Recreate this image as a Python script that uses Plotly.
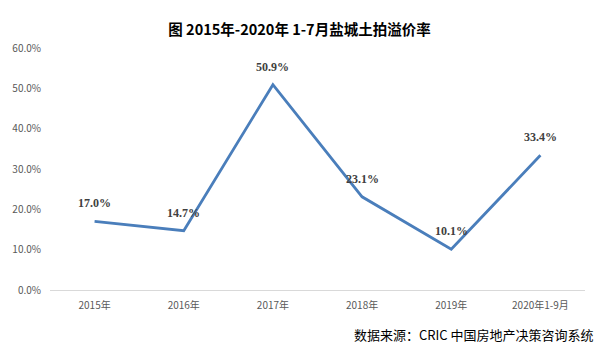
import plotly.graph_objects as go

categories = ["2015年", "2016年", "2017年", "2018年", "2019年", "2020年1-9月"]
values = [17.0, 14.7, 50.9, 23.1, 10.1, 33.4]
y_ticks = [0, 10, 20, 30, 40, 50, 60]
title_text = "图 2015年-2020年 1-7月盐城土拍溢价率"
source_text = "数据来源：CRIC 中国房地产决策咨询系统"

fig = go.Figure()
fig.add_trace(go.Scatter(
    x=categories, y=values, mode="lines",
    line=dict(color="#4a7ebb", width=2.8),
    hoverinfo="skip",
))

label_font = dict(family="Liberation Serif, Noto Sans CJK SC", size=12, color="#404040", weight="bold")
annotations = [dict(x=c, y=v, text=f"{v:.1f}%", showarrow=False, yshift=18,
                    xanchor="center", yanchor="middle", font=label_font)
               for c, v in zip(categories, values)]
annotations.append(dict(text=source_text, xref="paper", yref="paper", x=1.02, y=-0.185,
                        xanchor="right", yanchor="middle", showarrow=False,
                        font=dict(family="Noto Sans CJK SC", size=13, color="#000000")))

fig.update_layout(
    width=599, height=353,
    margin=dict(l=47, r=14, t=48, b=63),
    paper_bgcolor="white", plot_bgcolor="white",
    showlegend=False,
    title=dict(text=title_text, x=0.5, xanchor="center", y=0.915, yanchor="middle",
               font=dict(family="Noto Sans CJK SC", size=14.5, color="#000000", weight="bold")),
    xaxis=dict(type="category", range=[-0.5, 5.5], showgrid=False, showline=True,
               linecolor="#d9d9d9", linewidth=1, ticks="", ticklabelstandoff=6,
               tickfont=dict(family="Noto Sans CJK SC", size=10, color="#595959"),
               fixedrange=True),
    yaxis=dict(range=[0, 60], tickvals=y_ticks, ticktext=[f"{t:.1f}%" for t in y_ticks],
               showgrid=False, zeroline=False, showline=False, ticks="", ticklabelstandoff=8,
               tickfont=dict(family="Noto Sans CJK SC", size=10, color="#595959"),
               fixedrange=True),
    annotations=annotations,
)

fig.write_html("out.html")
